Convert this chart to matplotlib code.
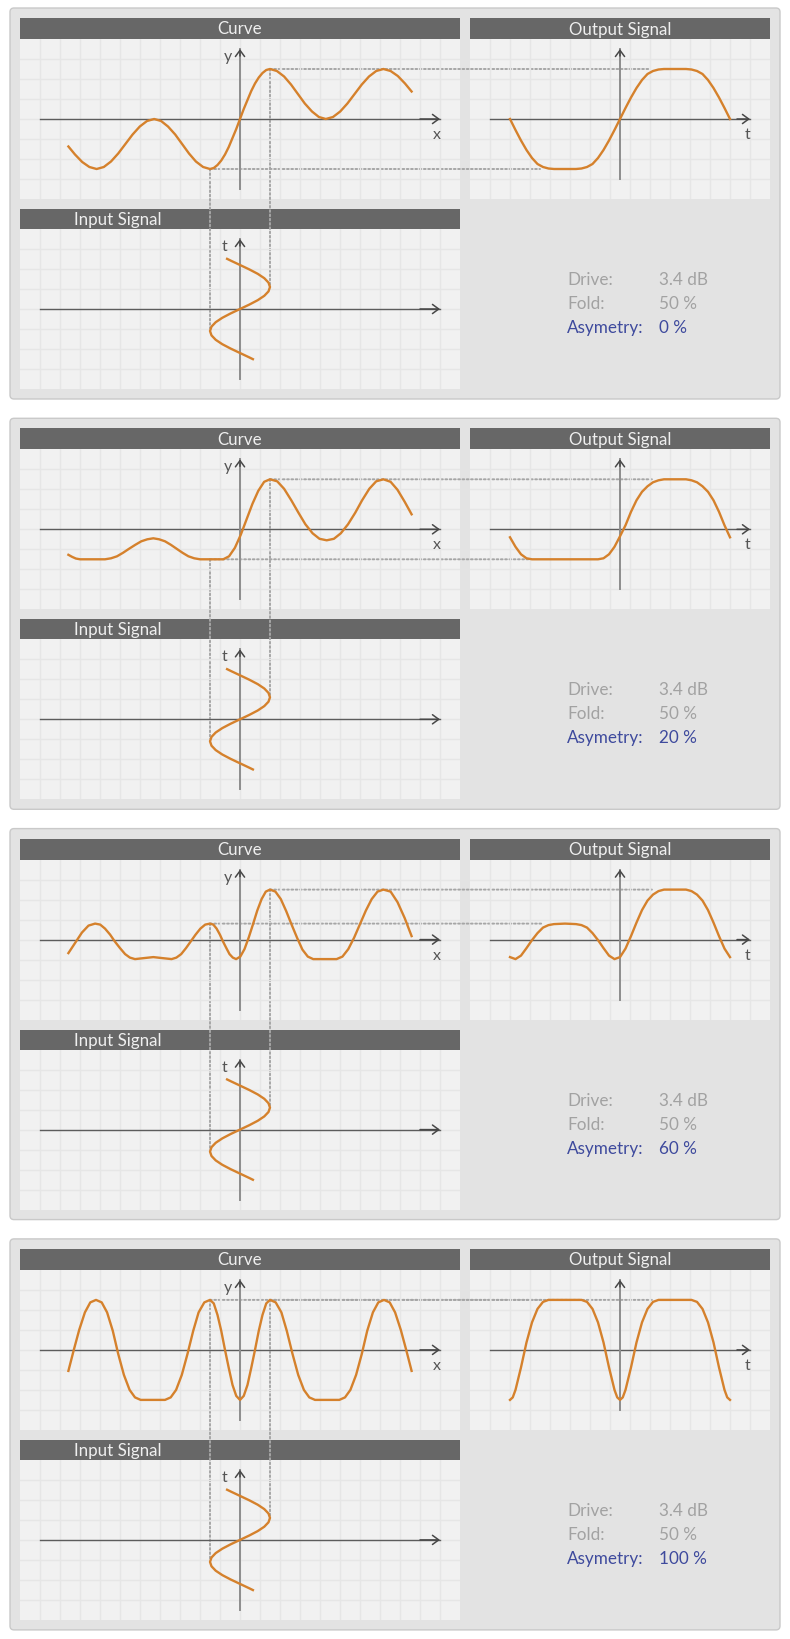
import numpy as np
import matplotlib.pyplot as plt
from matplotlib.patches import FancyBboxPatch, ConnectionPatch

plt.rcParams['font.family'] = ['Lato', 'DejaVu Sans']

# ---- data ----
# transfer curves: x = input level, y = output level (one per asymmetry setting)
curve0_x = [-5.72, -5.5, -5.26, -5.02, -4.78, -4.54, -4.30, -4.06, -3.82, -3.58, -3.34, -3.10,
            -2.86, -2.63, -2.40, -2.16, -1.93, -1.70, -1.47, -1.23, -1.0, -0.875, -0.75, -0.625,
            -0.5, -0.375, -0.25, -0.125, 0.0, 0.125, 0.25, 0.375, 0.5, 0.625, 0.75, 0.875, 1.0,
            1.23, 1.47, 1.70, 1.93, 2.16, 2.40, 2.63, 2.86, 3.10, 3.34, 3.58, 3.82, 4.06, 4.30,
            4.54, 4.78, 5.02, 5.26, 5.5, 5.72]
curve0_y = [-0.55, -0.71, -0.86, -0.96, -1.0, -0.96, -0.85, -0.69, -0.5, -0.31, -0.15, -0.04,
            0.0, -0.04, -0.15, -0.31, -0.5, -0.69, -0.85, -0.96, -1.0, -0.98, -0.92, -0.83,
            -0.71, -0.56, -0.38, -0.2, 0.0, 0.2, 0.38, 0.56, 0.71, 0.83, 0.92, 0.98, 1.0,
            0.96, 0.85, 0.69, 0.5, 0.31, 0.15, 0.04, 0.0, 0.04, 0.15, 0.31, 0.5, 0.69, 0.85,
            0.96, 1.0, 0.96, 0.86, 0.71, 0.55]

curve1_x = [-5.72, -5.6, -5.47, -5.33, -4.5, -4.3, -4.1, -3.9, -3.7, -3.49, -3.29, -3.09, -2.89,
            -2.695, -2.5, -2.305, -2.11, -1.915, -1.72, -1.525, -1.33, -0.56, -0.365, -0.17,
            0.025, 0.22, 0.415, 0.61, 0.805, 1.0, 1.24, 1.47, 1.71, 1.95, 2.18, 2.42, 2.65,
            2.89, 3.13, 3.36, 3.6, 3.84, 4.07, 4.31, 4.54, 4.78, 5.02, 5.25, 5.49, 5.72]
curve1_y = [-0.51, -0.55, -0.585, -0.6, -0.6, -0.58, -0.54, -0.47, -0.39, -0.31, -0.24, -0.2,
            -0.18, -0.2, -0.24, -0.31, -0.39, -0.47, -0.54, -0.58, -0.6, -0.6, -0.54, -0.37,
            -0.11, 0.2, 0.51, 0.77, 0.95, 1.0, 0.96, 0.81, 0.58, 0.33, 0.1, -0.08, -0.19,
            -0.22, -0.19, -0.08, 0.1, 0.33, 0.58, 0.81, 0.96, 1.0, 0.95, 0.79, 0.55, 0.3]

curve2_x = [-5.72, -5.5, -5.27, -5.05, -4.83, -4.66, -4.5, -4.33, -4.17, -4.0, -3.83, -3.67,
            -3.5, -3.2, -2.89, -2.59, -2.28, -2.12, -1.96, -1.8, -1.64, -1.48, -1.32, -1.16,
            -1.0, -0.89, -0.78, -0.67, -0.565, -0.455, -0.35, -0.24, -0.13, 0.01, 0.15, 0.29,
            0.435, 0.575, 0.72, 0.86, 1.0, 1.18, 1.36, 1.54, 1.72, 1.9, 2.08, 2.26, 2.44, 2.83,
            3.22, 3.415, 3.61, 3.805, 4.0, 4.195, 4.39, 4.585, 4.78, 5.02, 5.25, 5.49, 5.72]
curve2_y = [-0.27, -0.07, 0.14, 0.28, 0.32, 0.3, 0.22, 0.1, -0.04, -0.17, -0.29, -0.36,
            -0.39, -0.37, -0.35, -0.37, -0.39, -0.36, -0.29, -0.17, -0.035, 0.1, 0.22, 0.3,
            0.32, 0.3, 0.22, 0.1, -0.04, -0.17, -0.29, -0.36, -0.39, -0.34, -0.19, 0.04,
            0.31, 0.58, 0.81, 0.96, 1.0, 0.96, 0.81, 0.57, 0.3, 0.04, -0.2, -0.34, -0.39, -0.39,
            -0.39, -0.34, -0.19, 0.04, 0.31, 0.58, 0.81, 0.96, 1.0, 0.96, 0.75, 0.43, 0.07]

curve3_x = [-5.72, -5.54, -5.36, -5.17, -4.99, -4.8, -4.61, -4.43, -4.24, -4.06, -3.87, -3.68,
            -3.5, -3.31, -2.5, -2.31, -2.13, -1.94, -1.75, -1.56, -1.38, -1.19, -1.0, -0.875,
            -0.75, -0.625, -0.5, -0.375, -0.25, -0.125, 0.0, 0.125, 0.25, 0.375, 0.5, 0.625,
            0.75, 0.875, 1.0, 1.19, 1.38, 1.56, 1.75, 1.94, 2.13, 2.31, 2.5, 3.31, 3.5, 3.68,
            3.87, 4.06, 4.24, 4.43, 4.61, 4.8, 4.99, 5.17, 5.36, 5.54, 5.72]
curve3_y = [-0.42, 0.0, 0.4, 0.75, 0.95, 1.0, 0.95, 0.75, 0.38, -0.08, -0.5, -0.8,
            -0.95, -1.0, -1.0, -0.95, -0.8, -0.5, -0.08, 0.38, 0.75, 0.95, 1.0, 0.93,
            0.7, 0.38, 0.0, -0.36, -0.7, -0.92, -1.0, -0.92, -0.7, -0.36, 0.0, 0.38,
            0.7, 0.93, 1.0, 0.95, 0.75, 0.38, -0.08, -0.5, -0.8, -0.95, -1.0, -1.0, -0.95, -0.8,
            -0.5, -0.08, 0.38, 0.75, 0.95, 1.0, 0.95, 0.75, 0.4, 0.0, -0.42]

# output signals over one period (t = -1 .. 1)
out0_t = [-1.0, -0.95, -0.9, -0.85, -0.8, -0.75, -0.7, -0.65, -0.6, -0.4, -0.35, -0.3, -0.25,
          -0.2, -0.15, -0.1, -0.05, 0.0, 0.05, 0.1, 0.15, 0.2, 0.25, 0.3, 0.35, 0.4, 0.6,
          0.65, 0.7, 0.75, 0.8, 0.85, 0.9, 0.95, 1.0]
out0_y = [0.0, -0.22, -0.43, -0.62, -0.78, -0.9, -0.96, -0.99, -1.0, -1.0, -0.99, -0.96, -0.9,
          -0.78, -0.62, -0.43, -0.22, 0.0, 0.22, 0.43, 0.62, 0.78, 0.9, 0.96, 0.99, 1.0, 1.0,
          0.99, 0.96, 0.9, 0.78, 0.62, 0.43, 0.22, 0.0]

out1_t = [-1.0, -0.95, -0.9, -0.85, -0.8, -0.2, -0.15, -0.1, -0.05, 0.0, 0.05, 0.1, 0.15, 0.2,
          0.25, 0.3, 0.35, 0.4, 0.6, 0.65, 0.7, 0.75, 0.8, 0.85, 0.9, 0.95, 1.0]
out1_y = [-0.16, -0.35, -0.5, -0.58, -0.6, -0.6, -0.58, -0.5, -0.35, -0.14, 0.08, 0.35, 0.58,
          0.75, 0.86, 0.94, 0.98, 1.0, 1.0, 0.98, 0.94, 0.86, 0.75, 0.58, 0.35, 0.08, -0.16]

out2_t = [-1.0, -0.95, -0.9, -0.85, -0.8, -0.75, -0.7, -0.65, -0.6, -0.5, -0.4, -0.35, -0.3,
          -0.25, -0.2, -0.15, -0.1, -0.05, 0.0, 0.05, 0.1, 0.15, 0.2, 0.25, 0.3, 0.35, 0.4,
          0.5, 0.6, 0.65, 0.7, 0.75, 0.8, 0.85, 0.9, 0.95, 1.0]
out2_y = [-0.35, -0.39, -0.32, -0.17, -0.01, 0.13, 0.24, 0.29, 0.31, 0.32, 0.31, 0.29, 0.24,
          0.13, -0.01, -0.17, -0.32, -0.39, -0.35, -0.18, 0.07, 0.34, 0.59, 0.78, 0.9, 0.97,
          1.0, 1.0, 1.0, 0.97, 0.9, 0.78, 0.59, 0.34, 0.07, -0.18, -0.35]

out3_t = [-1.0, -0.975, -0.95, -0.9, -0.85, -0.8, -0.75, -0.7, -0.65, -0.35, -0.3, -0.25, -0.2,
          -0.15, -0.1, -0.05, -0.025, 0.0, 0.025, 0.05, 0.1, 0.15, 0.2, 0.25, 0.3, 0.35, 0.65,
          0.7, 0.75, 0.8, 0.85, 0.9, 0.95, 0.975, 1.0]
out3_y = [-1.0, -0.95, -0.8, -0.35, 0.15, 0.55, 0.82, 0.96, 1.0, 1.0, 0.96, 0.82, 0.55,
          0.15, -0.35, -0.8, -0.95, -1.0, -0.95, -0.8, -0.35, 0.15, 0.55, 0.82, 0.96, 1.0, 1.0,
          0.96, 0.82, 0.55, 0.15, -0.35, -0.8, -0.95, -1.0]

# input signal (same in every panel), drawn with t running upwards
input_t = [-1.14, -1.1, -1.0, -0.9, -0.8, -0.7, -0.6, -0.5, -0.4, -0.3, -0.2, -0.1, 0.0,
           0.1, 0.2, 0.3, 0.4, 0.5, 0.6, 0.7, 0.8, 0.9, 1.0, 1.1, 1.14]
input_x = [0.43, 0.31, 0.0, -0.31, -0.59, -0.81, -0.95, -1.0, -0.95, -0.81, -0.59, -0.31, 0.0,
           0.31, 0.59, 0.81, 0.95, 1.0, 0.95, 0.81, 0.59, 0.31, 0.0, -0.31, -0.43]

# guide lines: input extremes, curve values there, and where the output reaches them
link_x = [-1.0, 1.0]
link_in_t = [-0.5, 0.5]
link0_y = [-1.0, 1.0]
link1_y = [-0.6, 1.0]
link2_y = [0.32, 1.0]
link3_y = [1.0, 1.0]
link0_t = [-0.727, 0.27]
link1_t = [-0.82, 0.29]
link2_t = [-0.70, 0.29]
link3_t = [-0.70, 0.29]

drive_text = "3.4 dB"
fold_text = "50 %"
asym_texts = ["0 %", "20 %", "60 %", "100 %"]

curves = [(curve0_x, curve0_y), (curve1_x, curve1_y), (curve2_x, curve2_y), (curve3_x, curve3_y)]
outputs = [(out0_t, out0_y), (out1_t, out1_y), (out2_t, out2_y), (out3_t, out3_y)]
links = [(link0_y, link0_t), (link1_y, link1_t), (link2_y, link2_t), (link3_y, link3_t)]

# ---- styling ----
W, H = 790, 1640
ORANGE = '#d5812c'
DOT = '#a6a6a6'
AXIS_H = '#5c5c5c'
AXIS_V = '#8d8d8d'
PANEL_STEP = 410.3

fig = plt.figure(figsize=(W / 100, H / 100), dpi=100)
fig.patch.set_facecolor('white')


def px_rect(x, y, w, h):
    return [x / W, 1 - (y + h) / H, w / W, h / H]


def add_box(x, y, w, h, fc, ec='none', lw=0, rnd=0.0, z=0):
    style = 'round,pad=0,rounding_size=%g' % rnd if rnd else 'square,pad=0'
    p = FancyBboxPatch((x / 100, (H - y - h) / 100), w / 100, h / 100, boxstyle=style,
                       transform=fig.dpi_scale_trans, facecolor=fc, edgecolor=ec,
                       linewidth=lw, zorder=z)
    fig.add_artist(p)


def header(x, y, w, h, label, tx, ha):
    add_box(x, y, w, h, '#676767', z=0.3)
    fig.text(tx / W, 1 - (y + h / 2) / H, label, color='#efefef', fontsize=12.2,
             ha=ha, va='center', zorder=3)


def make_axes(x, y, w, h, xlim, ylim):
    add_box(x, y, w, h, '#f1f1f1', z=0.2)
    ax = fig.add_axes(px_rect(x, y, w, h))
    ax.set_zorder(2)
    ax.patch.set_alpha(0)
    ax.set_xlim(*xlim)
    ax.set_ylim(*ylim)
    nx, ny = int(round(w / 20)), int(round(h / 20))
    ax.set_xticks(xlim[0] + (xlim[1] - xlim[0]) * np.arange(1, nx) / nx)
    ax.set_yticks(ylim[0] + (ylim[1] - ylim[0]) * np.arange(1, ny) / ny)
    ax.grid(True, color='#e6e6e6', lw=1.0)
    ax.tick_params(length=0, labelbottom=False, labelleft=False)
    for s in ax.spines.values():
        s.set_visible(False)
    return ax


def draw_axes_lines(ax, hx, vy, xlab, xlab_pos, ylab=None, ylab_pos=None):
    ax.plot([-hx, hx], [0, 0], color=AXIS_H, lw=1.0, zorder=2)
    ax.plot([0, 0], [vy[0], vy[1]], color=AXIS_V, lw=1.4, zorder=2)
    head = '->,head_length=0.45,head_width=0.33'
    ax.annotate('', xy=(hx, 0), xytext=(hx * 0.9, 0),
                arrowprops=dict(arrowstyle=head, color='#484848', lw=1.1, shrinkA=0, shrinkB=0))
    ax.annotate('', xy=(0, vy[1]), xytext=(0, vy[1] * 0.9),
                arrowprops=dict(arrowstyle=head, color='#484848', lw=1.1, shrinkA=0, shrinkB=0))
    ax.text(*xlab_pos, xlab, color='#555555', fontsize=11.5, ha='center', va='center')
    if ylab:
        ax.text(*ylab_pos, ylab, color='#555555', fontsize=11.5, ha='center', va='center')


for i in range(4):
    oy = PANEL_STEP * i
    add_box(10, 9 + oy, 770, 391, '#e3e3e3', ec='#c9c9c9', lw=1.0, rnd=0.04, z=0.1)

    header(20, 19 + oy, 440, 21, 'Curve', 240, 'center')
    header(470, 19 + oy, 300, 21, 'Output Signal', 620, 'center')
    header(20, 210 + oy, 440, 20, 'Input Signal', 74, 'left')

    ax_c = make_axes(20, 40 + oy, 440, 160, (-22 / 3, 22 / 3), (-1.6, 1.6))
    ax_o = make_axes(470, 40 + oy, 300, 160, (-15 / 11, 15 / 11), (-1.6, 1.6))
    ax_i = make_axes(20, 230 + oy, 440, 160, (-22 / 3, 22 / 3), (-20 / 11, 20 / 11))

    draw_axes_lines(ax_c, 20 / 3, (-1.4, 1.4), 'x', (6.55, -0.3), 'y', (-0.4, 1.26))
    draw_axes_lines(ax_o, 13 / 11, (-1.2, 1.4), 't', (1.155, -0.3))
    draw_axes_lines(ax_i, 20 / 3, (-70 / 44, 70 / 44), '', (0, 0), 't', (-0.5, 1.43))

    cx, cy = curves[i]
    ax_c.plot(cx, cy, color=ORANGE, lw=1.7, zorder=3, solid_joinstyle='round')
    ot, oyv = outputs[i]
    ax_o.plot(ot, oyv, color=ORANGE, lw=1.7, zorder=3, solid_joinstyle='round')
    ax_i.plot(input_x, input_t, color=ORANGE, lw=1.7, zorder=3, solid_joinstyle='round')

    ly, lt = links[i]
    for k in range(2):
        for a, b, ca, cb in [((link_x[k], ly[k]), (link_x[k], link_in_t[k]), ax_c, ax_i),
                             ((link_x[k], ly[k]), (lt[k], ly[k]), ax_c, ax_o)]:
            cp = ConnectionPatch(xyA=a, xyB=b, coordsA=ca.transData, coordsB=cb.transData,
                                 color=DOT, lw=1.4, linestyle=(0, (0.9, 1.3)), zorder=1)
            fig.add_artist(cp)

    rows = [('Drive:', drive_text, '#a2a2a2'), ('Fold:', fold_text, '#a2a2a2'),
            ('Asymetry:', asym_texts[i], '#3e4a9d')]
    for r, (name, val, col) in enumerate(rows):
        yy = 1 - (280 + 24 * r + oy) / H
        fig.text(567 / W, yy, name, color=col, fontsize=12.3, ha='left', va='center')
        fig.text(659 / W, yy, val, color=col, fontsize=12.3, ha='left', va='center')

fig.savefig('out.png', dpi=100)
